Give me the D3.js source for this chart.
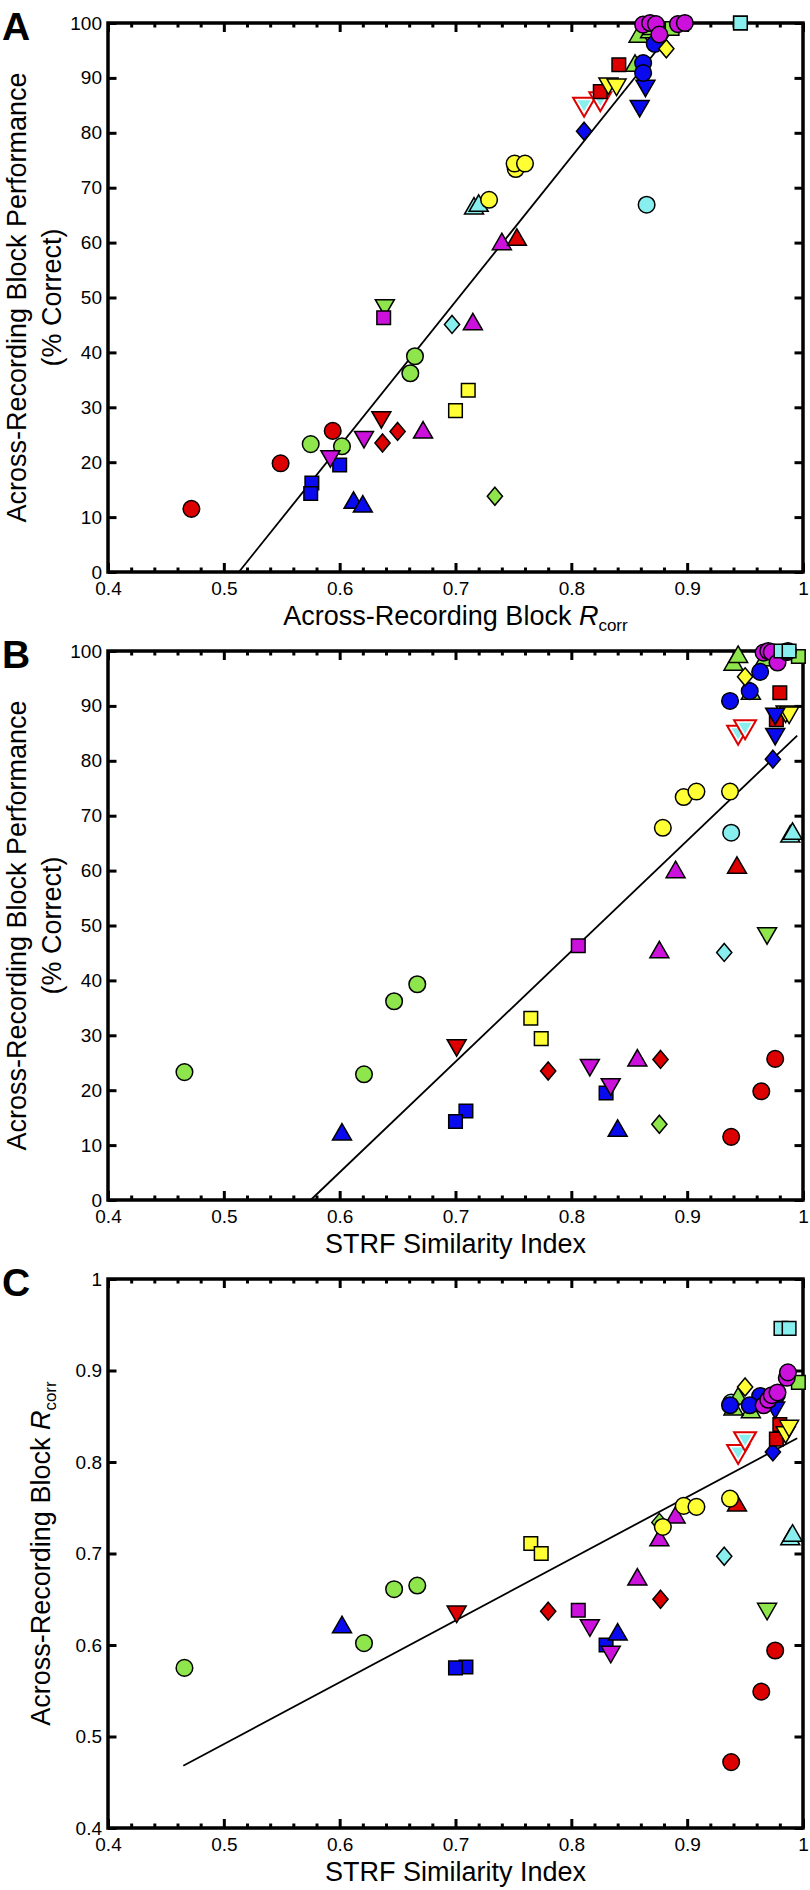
<!DOCTYPE html>
<html>
<head>
<meta charset="utf-8">
<script src="https://cdn.jsdelivr.net/npm/d3@7/dist/d3.min.js"></script>
<style>
  body { margin: 0; background: #fff; }
  svg { display: block; }
</style>
</head>
<body>
<div id="chart"></div>
<script>
// each point: [across-recording block Rcorr, % correct, STRF similarity index]
const redCircle = [[0.472, 11.5, 0.938], [0.549, 19.8, 0.964], [0.594, 25.7, 0.976]];
const redSquare = [[0.841, 92.4, 0.980], [0.825, 87.5, 0.977]];
const redUp = [[0.753, 60.6, 0.943]];
const redDown = [[0.636, 28.1, 0.701]];
const redDiamond = [[0.637, 23.5, 0.780], [0.650, 25.6, 0.877]];
const openDown = [[0.811, 85.1, 0.944], [0.825, 86.1, 0.950]];
const blueCircle = [[0.872, 96.2, 0.963], [0.862, 92.7, 0.954], [0.862, 90.9, 0.937]];
const blueSquare = [[0.576, 16.2, 0.709], [0.575, 14.3, 0.700], [0.600, 19.5, 0.830]];
const blueUp = [[0.612, 12.7, 0.840], [0.620, 12.0, 0.602]];
const blueDown = [[0.864, 88.5, 0.976], [0.859, 84.8, 0.976]];
const blueDiamond = [[0.811, 80.3, 0.974]];
const greenCircle = [[0.575, 23.3, 0.466], [0.602, 22.9, 0.621], [0.661, 36.2, 0.647], [0.665, 39.3, 0.667]];
const greenSquare = [[0.887, 99.0, 0.996]];
const greenUp = [[0.855, 92.3, 0.955], [0.858, 97.6, 0.940], [0.868, 98.4, 0.967], [0.870, 99.0, 0.944]];
const greenDown = [[0.639, 48.5, 0.969]];
const greenDiamond = [[0.734, 13.8, 0.876]];
const yellowCircle = [[0.729, 67.8, 0.879], [0.752, 73.4, 0.897], [0.751, 74.4, 0.908], [0.760, 74.4, 0.937]];
const yellowSquare = [[0.711, 33.1, 0.765], [0.700, 29.4, 0.774]];
const yellowDown = [[0.832, 88.9, 0.985], [0.839, 88.7, 0.988]];
const yellowDiamond = [[0.882, 95.3, 0.950]];
const magentaCircle = [[0.862, 99.7, 0.966], [0.868, 100, 0.970], [0.873, 99.8, 0.973], [0.876, 97.9, 0.978], [0.892, 99.8, 0.986], [0.898, 100, 0.987]];
const magentaSquare = [[0.638, 46.3, 0.806]];
const magentaUp = [[0.672, 25.5, 0.857], [0.715, 45.2, 0.876], [0.740, 59.8, 0.890]];
const magentaDown = [[0.592, 21.0, 0.834], [0.621, 24.5, 0.816]];
const cyanCircle = [[0.865, 66.9, 0.938]];
const cyanSquare = [[0.946, 100, 0.981], [0.946, 100, 0.988]];
const cyanUp = [[0.716, 66.3, 0.989], [0.720, 66.8, 0.991]];
const cyanDiamond = [[0.697, 45.1, 0.932]];

// fitted lines, end points in data units [x, y]
const fitA = [[0.513, 0], [0.885, 98.0]];
const fitB = [[0.575, 0], [0.995, 84.6]];
const fitC = [[0.465, 0.468], [0.995, 0.826]];

const xTicks = [0.4, 0.5, 0.6, 0.7, 0.8, 0.9, 1];
const pctTicks = [0, 10, 20, 30, 40, 50, 60, 70, 80, 90, 100];
const rTicks = [0.4, 0.5, 0.6, 0.7, 0.8, 0.9, 1];

const RED = '#dd0000', BLUE = '#0a0aee', GREEN = '#8fe64c', YELLOW = '#ffff33',
      MAGENTA = '#cc11dd', CYAN = '#88eeee';

let series = [
  {shape: 'circle', fill: RED, pts: redCircle},
  {shape: 'square', fill: BLUE, pts: blueSquare},
  {shape: 'circle', fill: GREEN, pts: greenCircle},
  {shape: 'down', fill: MAGENTA, pts: magentaDown},
  {shape: 'up', fill: BLUE, pts: blueUp},
  {shape: 'down', fill: RED, pts: redDown},
  {shape: 'diamond', fill: RED, pts: redDiamond},
  {shape: 'up', fill: MAGENTA, pts: magentaUp},
  {shape: 'down', fill: GREEN, pts: greenDown},
  {shape: 'square', fill: MAGENTA, pts: magentaSquare},
  {shape: 'diamond', fill: CYAN, pts: cyanDiamond},
  {shape: 'square', fill: YELLOW, pts: yellowSquare},
  {shape: 'diamond', fill: GREEN, pts: greenDiamond},
  {shape: 'up', fill: RED, pts: redUp},
  {shape: 'up', fill: CYAN, pts: cyanUp},
  {shape: 'circle', fill: YELLOW, pts: yellowCircle},
  {shape: 'circle', fill: CYAN, pts: cyanCircle},
  {shape: 'diamond', fill: BLUE, pts: blueDiamond},
  {shape: 'open', fill: CYAN, pts: openDown},
  {shape: 'square', fill: RED, pts: redSquare},
  {shape: 'down', fill: YELLOW, pts: yellowDown},
  {shape: 'down', fill: BLUE, pts: blueDown},
  {shape: 'up', fill: GREEN, pts: greenUp},
  {shape: 'circle', fill: BLUE, pts: blueCircle},
  {shape: 'diamond', fill: YELLOW, pts: yellowDiamond},
  {shape: 'square', fill: GREEN, pts: greenSquare},
  {shape: 'circle', fill: MAGENTA, pts: magentaCircle},
  {shape: 'square', fill: CYAN, pts: cyanSquare}
];

const W = 810, H = 1890;
const left = 108, right = 803, plotH = 549;
const tops = [23, 651, 1279];
const FONT = '"Liberation Sans", Arial, Helvetica, sans-serif';

// custom symbol types (size argument ignored)
const symbols = {
  circle: {draw(c) { c.moveTo(8.3, 0); c.arc(0, 0, 8.3, 0, 2 * Math.PI); }},
  square: {draw(c) { c.rect(-6.8, -6.8, 13.6, 13.6); }},
  up: {draw(c) { c.moveTo(0, -10.5); c.lineTo(9.5, 6); c.lineTo(-9.5, 6); c.closePath(); }},
  down: {draw(c) { c.moveTo(0, 10.5); c.lineTo(9.5, -6); c.lineTo(-9.5, -6); c.closePath(); }},
  diamond: {draw(c) { c.moveTo(0, -9); c.lineTo(7.6, 0); c.lineTo(0, 9); c.lineTo(-7.6, 0); c.closePath(); }},
  openOuter: {draw(c) { c.moveTo(0, 12); c.lineTo(11, -7); c.lineTo(-11, -7); c.closePath(); }},
  openInner: {draw(c) { c.moveTo(0, 6.5); c.lineTo(6.5, -4.5); c.lineTo(-6.5, -4.5); c.closePath(); }}
};

let svg = d3.select('#chart').append('svg')
  .attr('width', W).attr('height', H)
  .style('font-family', FONT);
svg.append('rect').attr('width', W).attr('height', H).attr('fill', '#fff');

let minorTicks = d3.range(0.42, 1.0, 0.02).filter(v => Math.abs(v * 10 - Math.round(v * 10)) > 0.01);

function panel(idx, label, xi, yi, yDomain, yTicks, fit, yTitle, xTitle) {
  let top = tops[idx];
  let x = d3.scaleLinear().domain([0.4, 1]).range([left, right]);
  let y = d3.scaleLinear().domain(yDomain).range([top + plotH, top]);
  let g = svg.append('g');

  // ticks, all pointing inward
  let axB = g.append('g').attr('transform', `translate(0,${top + plotH})`)
    .call(d3.axisBottom(x).tickValues(xTicks).tickSizeInner(-9).tickSizeOuter(0).tickPadding(9.5)
      .tickFormat(d => String(d)));
  g.append('g').attr('transform', `translate(0,${top + plotH})`)
    .call(d3.axisBottom(x).tickValues(minorTicks).tickSizeInner(-4.5).tickSizeOuter(0).tickFormat(''));
  g.append('g').attr('transform', `translate(0,${top})`)
    .call(d3.axisTop(x).tickValues(xTicks).tickSizeInner(-9).tickSizeOuter(0).tickFormat(''));
  g.append('g').attr('transform', `translate(0,${top})`)
    .call(d3.axisTop(x).tickValues(minorTicks).tickSizeInner(-4.5).tickSizeOuter(0).tickFormat(''));
  let axL = g.append('g').attr('transform', `translate(${left},0)`)
    .call(d3.axisLeft(y).tickValues(yTicks).tickSizeInner(-8.5).tickSizeOuter(0).tickPadding(6)
      .tickFormat(d => String(d)));
  g.append('g').attr('transform', `translate(${right},0)`)
    .call(d3.axisRight(y).tickValues(yTicks).tickSizeInner(-8.5).tickSizeOuter(0).tickFormat(''));

  g.selectAll('.domain').remove();
  g.selectAll('.tick line').attr('stroke', '#000').attr('stroke-width', 3);
  g.selectAll('.tick text').attr('fill', '#000').style('font-size', '19px').style('font-family', FONT);

  g.append('rect')
    .attr('x', left).attr('y', top).attr('width', right - left).attr('height', plotH)
    .attr('fill', 'none').attr('stroke', '#000').attr('stroke-width', 3.5);

  // regression line
  g.append('path')
    .datum(fit)
    .attr('fill', 'none').attr('stroke', '#000').attr('stroke-width', 1.8)
    .attr('d', d3.line().x(d => x(d[0])).y(d => y(d[1])));

  // markers
  let sym = d3.symbol();
  series.forEach(s => {
    s.pts.forEach(p => {
      let tx = x(p[xi]), ty = y(p[yi]);
      if (s.shape === 'open') {
        g.append('path').attr('transform', `translate(${tx},${ty})`)
          .attr('d', sym.type(symbols.openOuter)())
          .attr('fill', '#fff').attr('stroke', RED).attr('stroke-width', 2);
        g.append('path').attr('transform', `translate(${tx},${ty})`)
          .attr('d', sym.type(symbols.openInner)())
          .attr('fill', CYAN).attr('stroke', 'none');
      } else {
        g.append('path').attr('transform', `translate(${tx},${ty})`)
          .attr('d', sym.type(symbols[s.shape])())
          .attr('fill', s.fill).attr('stroke', '#000').attr('stroke-width', 1.5);
      }
    });
  });

  // panel letter
  g.append('text').attr('x', 2).attr('y', top + 17)
    .style('font-size', '39px').style('font-weight', 'bold').text(label);

  // y title
  let yt = g.append('g').attr('transform', `translate(0,${top + plotH / 2})`);
  yTitle(yt);

  // x title
  let xt = g.append('text')
    .attr('x', (left + right) / 2).attr('y', top + plotH + 53)
    .attr('text-anchor', 'middle').style('font-size', '27px');
  xTitle(xt);
}

function rcorrText(t) {
  t.append('tspan').text('Across-Recording Block ');
  t.append('tspan').style('font-style', 'italic').text('R');
  t.append('tspan').attr('dy', 6).style('font-size', '17px').text('corr');
}

function perfTitle(gt) {
  gt.append('text').attr('transform', 'translate(26,0) rotate(-90)')
    .attr('text-anchor', 'middle').style('font-size', '27px')
    .text('Across-Recording Block Performance');
  gt.append('text').attr('transform', 'translate(61,0) rotate(-90)')
    .attr('text-anchor', 'middle').style('font-size', '27px')
    .text('(% Correct)');
}

function strfTitle(t) { t.text('STRF Similarity Index'); }

panel(0, 'A', 0, 1, [0, 100], pctTicks, fitA, perfTitle, rcorrText);
panel(1, 'B', 2, 1, [0, 100], pctTicks, fitB, perfTitle, strfTitle);
panel(2, 'C', 2, 0, [0.4, 1], rTicks, fitC, gt => {
  let t = gt.append('text').attr('transform', 'translate(50,0) rotate(-90)')
    .attr('text-anchor', 'middle').style('font-size', '27px');
  rcorrText(t);
}, strfTitle);
</script>
</body>
</html>
